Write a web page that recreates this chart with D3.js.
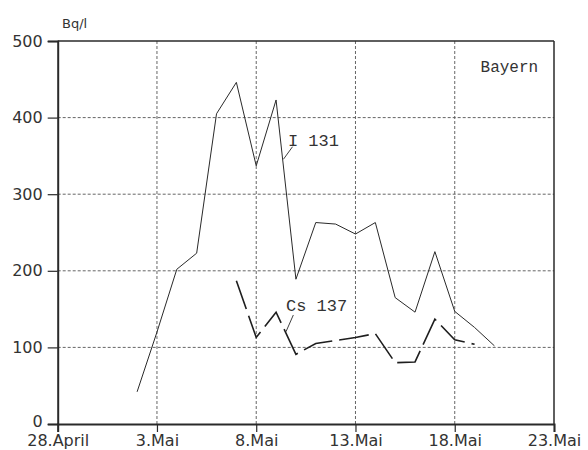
<!DOCTYPE html>
<html>
<head>
<meta charset="utf-8">
<script src="https://cdn.jsdelivr.net/npm/d3@7/dist/d3.min.js"></script>
<style>
  html, body { margin: 0; padding: 0; background: #fff; }
  svg { display: block; }
</style>
</head>
<body>
<script>
// Daily activity concentration in milk, Bayern (Bq/l)
const i131Dates = ["1986-05-02","1986-05-03","1986-05-04","1986-05-05","1986-05-06","1986-05-07",
  "1986-05-08","1986-05-09","1986-05-10","1986-05-11","1986-05-12","1986-05-13","1986-05-14",
  "1986-05-15","1986-05-16","1986-05-17","1986-05-18","1986-05-19","1986-05-20"];
const i131Values = [42, 120, 202, 223, 405, 446, 337, 423, 189, 263, 261, 248, 263, 165, 146, 225, 147, 126, 102];

const cs137Dates = ["1986-05-07","1986-05-08","1986-05-09","1986-05-10","1986-05-11","1986-05-12",
  "1986-05-13","1986-05-14","1986-05-15","1986-05-16","1986-05-17","1986-05-18","1986-05-19"];
const cs137Values = [187, 113, 146, 91, 105, 109, 113, 118, 80, 81, 137, 110, 104];

const xTickDates = ["1986-04-28","1986-05-03","1986-05-08","1986-05-13","1986-05-18","1986-05-23"];
const xTickLabels = ["28.April","3.Mai","8.Mai","13.Mai","18.Mai","23.Mai"];
const yTicks = [0, 100, 200, 300, 400, 500];

const W = 588, H = 450;
const margin = { left: 57.7, right: 588 - 554, top: 41, bottom: 450 - 424 };

const parse = d3.utcParse("%Y-%m-%d");
const x = d3.scaleUtc()
  .domain([parse("1986-04-28"), parse("1986-05-23")])
  .range([margin.left, W - margin.right]);
const y = d3.scaleLinear()
  .domain([0, 500])
  .range([H - margin.bottom, margin.top]);

const svg = d3.select("body").append("svg")
  .attr("width", W).attr("height", H)
  .style("background", "#fff");

const ink = "#2a2a2a";
const textInk = "#333";
const gridInk = "#555";
const sans = "'DejaVu Sans', sans-serif";

// grid
const grid = svg.append("g");
grid.selectAll("line.h").data(yTicks.filter(v => v > 0 && v < 500)).join("line")
  .attr("x1", x.range()[0]).attr("x2", x.range()[1])
  .attr("y1", d => y(d)).attr("y2", d => y(d))
  .attr("stroke", gridInk).attr("stroke-width", 0.9).attr("stroke-dasharray", "3,2");
grid.selectAll("line.v").data(xTickDates.slice(1, -1).map(parse)).join("line")
  .attr("x1", d => x(d)).attr("x2", d => x(d))
  .attr("y1", y(0)).attr("y2", y(500))
  .attr("stroke", gridInk).attr("stroke-width", 0.9).attr("stroke-dasharray", "3,2");

// frame: top and right
svg.append("line").attr("x1", x.range()[0]).attr("x2", x.range()[1])
  .attr("y1", y(500)).attr("y2", y(500)).attr("stroke", ink).attr("stroke-width", 1.3);
svg.append("line").attr("x1", x.range()[1]).attr("x2", x.range()[1])
  .attr("y1", y(0)).attr("y2", y(500)).attr("stroke", ink).attr("stroke-width", 1.5);

// axes
const yAxis = d3.axisLeft(y).tickValues(yTicks).tickSize(10).tickPadding(5).tickFormat(d3.format("d"));
const gy = svg.append("g").attr("transform", `translate(${x.range()[0]},0)`).call(yAxis);
gy.select(".domain").attr("stroke", ink).attr("stroke-width", 2);
gy.selectAll(".tick line").attr("stroke", ink).attr("stroke-width", 1.2);
gy.selectAll(".tick text").attr("fill", textInk)
  .style("font-family", sans).style("font-size", "16px");
// lift the zero label slightly so it clears the date labels below
gy.selectAll(".tick text").filter(d => d === 0).attr("dy", "0.18em");

const xAxis = d3.axisBottom(x).tickValues(xTickDates.map(parse)).tickSize(8).tickPadding(3)
  .tickFormat((d, i) => xTickLabels[i]);
const gx = svg.append("g").attr("transform", `translate(0,${y(0)})`).call(xAxis);
gx.select(".domain").attr("stroke", ink).attr("stroke-width", 2);
gx.selectAll(".tick line").attr("stroke", ink).attr("stroke-width", 1.2);
gx.selectAll(".tick text").attr("fill", textInk)
  .style("font-family", sans).style("font-size", "16px");

// unit label
svg.append("text").attr("x", 62).attr("y", 28).text("Bq/l")
  .attr("fill", textInk).style("font-family", sans).style("font-size", "13px");

// series
const line = d3.line().x(d => x(d[0])).y(d => y(d[1]));
const i131 = i131Dates.map((d, i) => [parse(d), i131Values[i]]);
const cs137 = cs137Dates.map((d, i) => [parse(d), cs137Values[i]]);

svg.append("path").datum(i131).attr("d", line)
  .attr("fill", "none").attr("stroke", ink).attr("stroke-width", 1)
  .attr("stroke-linejoin", "miter");
svg.append("path").datum(cs137).attr("d", line)
  .attr("fill", "none").attr("stroke", "#1e1e1e").attr("stroke-width", 1.6)
  .attr("stroke-dasharray", "30,7");

// annotations (positions in data units)
const dayOff = (base, days) => new Date(parse(base).getTime() + days * 864e5);
const mono = "'Liberation Mono', 'DejaVu Sans Mono', monospace";

svg.append("text").attr("x", x(dayOff("1986-04-28", 11.6))).attr("y", y(363))
  .text("I 131").attr("fill", textInk).style("font-family", mono).style("font-size", "17px");
svg.append("line")
  .attr("x1", x(dayOff("1986-04-28", 11.83))).attr("y1", y(362))
  .attr("x2", x(dayOff("1986-04-28", 11.37))).attr("y2", y(345.6))
  .attr("stroke", ink).attr("stroke-width", 0.9);

svg.append("text").attr("x", x(dayOff("1986-04-28", 11.5))).attr("y", y(148))
  .text("Cs 137").attr("fill", textInk).style("font-family", mono).style("font-size", "17px");
svg.append("line")
  .attr("x1", x(dayOff("1986-04-28", 11.87))).attr("y1", y(142.3))
  .attr("x2", x(dayOff("1986-04-28", 11.5))).attr("y2", y(120.5))
  .attr("stroke", ink).attr("stroke-width", 0.9);

svg.append("text").attr("x", x(dayOff("1986-04-28", 21.3))).attr("y", y(460))
  .text("Bayern").attr("fill", textInk).style("font-family", mono).style("font-size", "16px");
</script>
</body>
</html>
